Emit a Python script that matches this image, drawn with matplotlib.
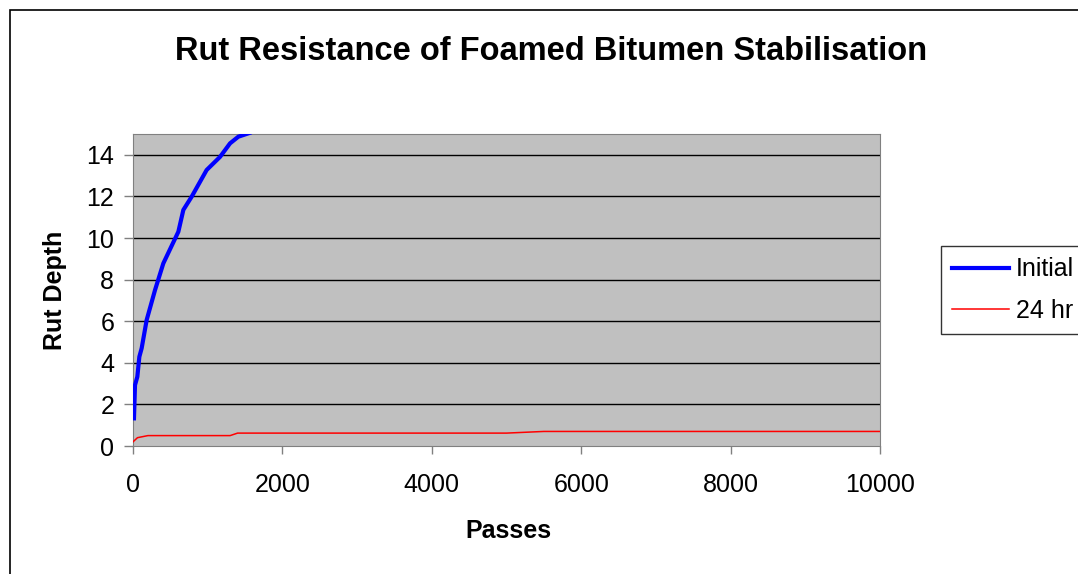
import matplotlib.pyplot as plt
from matplotlib.patches import Rectangle

plt.rcParams['font.family'] = ['Liberation Sans', 'DejaVu Sans']

# Initial rut depth curve
initial_passes = [13, 27, 58, 85, 116, 183, 295, 406, 607, 674, 786, 986, 1165, 1299, 1410, 1560]
initial_depth = [1.33, 2.93, 3.33, 4.29, 4.7, 6.06, 7.5, 8.78, 10.3, 11.35, 11.99, 13.27, 13.9, 14.55, 14.87, 15.05]

# 24 hr rut depth curve
hr24_passes = [0, 60, 200, 1300, 1400, 5000, 5500, 10000]
hr24_depth = [0.2, 0.4, 0.5, 0.5, 0.62, 0.62, 0.7, 0.7]

x_ticks = [0, 2000, 4000, 6000, 8000, 10000]
y_ticks = [0, 2, 4, 6, 8, 10, 12, 14]

fig = plt.figure(figsize=(10.78, 5.74), dpi=100)
ax = fig.add_axes([133 / 1078, 1 - 446 / 574, (880 - 133) / 1078, (446 - 134) / 574])

# chart border (runs off the right and bottom edge)
fig.patches.append(Rectangle((10 / 1078, -0.1), 1.2, 1 - 10 / 574 + 0.1,
                             transform=fig.transFigure, fill=False,
                             edgecolor='black', linewidth=1.2))

ax.set_facecolor('#C0C0C0')
for y in y_ticks[1:]:
    ax.axhline(y, color='black', linewidth=1, zorder=1)

ax.plot(initial_passes, initial_depth, '-', color='#0000FF', linewidth=3, label='Initial', zorder=3)
ax.plot(hr24_passes, hr24_depth, '-', color='#FF0000', linewidth=1.1, label='24 hr', zorder=3)

ax.set_xlim(0, 10000)
ax.set_ylim(0, 15)
ax.set_xticks(x_ticks)
ax.set_yticks(y_ticks)
ax.tick_params(labelsize=18, color='#808080', width=1)
ax.tick_params(axis='x', length=5.5, pad=14)
ax.tick_params(axis='y', length=6.5, pad=7)
for s in ax.spines.values():
    s.set_color('#808080')

fig.text(551 / 1078, 1 - 52 / 574, 'Rut Resistance of Foamed Bitumen Stabilisation',
         fontsize=23.5, fontweight='bold', ha='center', va='center')
fig.text(508 / 1078, 1 - 531 / 574, 'Passes', fontsize=18, fontweight='bold', ha='center', va='center')
fig.text(55 / 1078, 1 - 290 / 574, 'Rut Depth', fontsize=18, fontweight='bold',
         ha='center', va='center', rotation=90)

leg = fig.legend(loc='upper left', bbox_to_anchor=(941 / 1078, 1 - 246 / 574), fontsize=18,
                 frameon=True, fancybox=False, edgecolor='black', borderaxespad=0,
                 handlelength=2.25, handletextpad=0.28, labelspacing=0.7, borderpad=0.45)
leg.get_frame().set_linewidth(1)

fig.savefig('out.png', dpi=100)
